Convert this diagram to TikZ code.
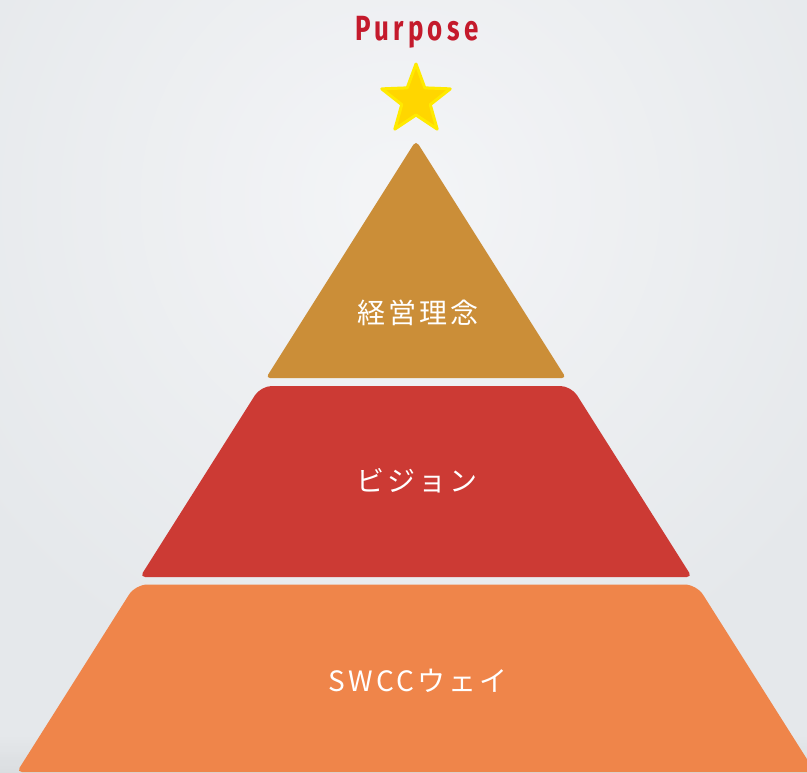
\documentclass[tikz,border=0pt]{standalone}
\usepackage{fontspec}
\newfontfamily\jpfont{Noto Sans CJK JP}[LetterSpace=11]
\newfontfamily\purposefont{Fira Sans}[FakeStretch=0.74, LetterSpace=12]
\definecolor{bgin}{RGB}{244,245,247}
\definecolor{bgout}{RGB}{229,232,235}
\definecolor{bgbot}{RGB}{216,219,222}
\definecolor{goldc}{RGB}{203,142,56}
\definecolor{redc}{RGB}{204,58,52}
\definecolor{orangec}{RGB}{239,133,74}
\definecolor{purposered}{RGB}{196,26,44}
\definecolor{starfill}{RGB}{255,214,0}
\definecolor{starline}{RGB}{255,234,0}
\tikzset{
  label jp/.style={text=white, font=\jpfont\fontsize{28}{28}\selectfont, inner sep=0pt},
  starshape/.style={fill=starfill, draw=starline, line width=3pt, line join=round},
}
\begin{document}
\begin{tikzpicture}[x=1pt,y=-1pt]
\useasboundingbox (0,0) rectangle (807,773);
\begin{scope}
  \clip (0,0) rectangle (807,773);
  \fill[bgout] (0,0) rectangle (807,773);
  \shade[inner color=bgin, outer color=bgout] (400,200) circle (520);
  \shade[top color=bgout, bottom color=bgbot, opacity=0.8] (0,735) rectangle (807,773);
  % layers
  \fill[goldc] (266,378) [rounded corners=5pt] -- (416,140.5) [rounded corners=4pt] -- (566,378) -- cycle;
  \fill[redc] (416,386) [rounded corners=11pt] -- (571.2,386) [rounded corners=5pt] -- (691.9,577) -- (140.1,577) [rounded corners=11pt] -- (260.8,386) [sharp corners] -- cycle;
  \fill[orangec] (416,584.5) [rounded corners=12pt] -- (696.6,584.5) [rounded corners=5pt] -- (815.1,772) -- (16.9,772) [rounded corners=12pt] -- (135.4,584.5) [sharp corners] -- cycle;
  % star
  \draw[starshape, shift={(416,100)}] (270:36) -- (306:15) -- (342:36) -- (18:15) -- (54:36) -- (90:15) -- (126:36) -- (162:15) -- (198:36) -- (234:15) -- cycle;
\end{scope}
\node[text=purposered, inner sep=0pt, font=\purposefont\bfseries\fontsize{35}{35}\selectfont] (purpose) at (417,32) {Purpose};
\coordinate (star) at (416,100);
\node[label jp] (rinen) at (418,313) {経営理念};
\node[label jp] (vision) at (417,481) {ビジョン};
\node[label jp] (way) at (418,681) {SWCCウェイ};
\end{tikzpicture}
\end{document}
